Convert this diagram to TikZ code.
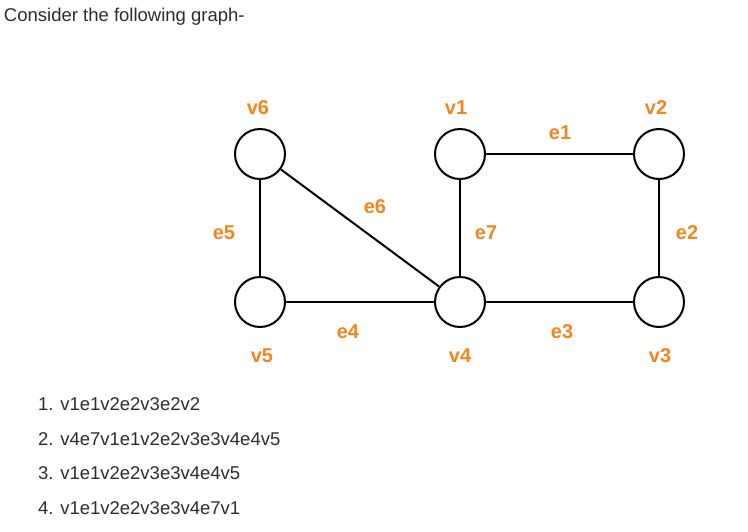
\documentclass[tikz,border=0pt]{standalone}
\usepackage{fontspec}
\setmainfont{Liberation Sans}
\definecolor{lblorange}{RGB}{242,133,30}
\definecolor{txtgray}{RGB}{45,45,45}

\begin{document}
\begin{tikzpicture}
		[x=1pt, y=-1pt, line width=2pt,
		vertex/.style={circle,draw,inner sep=0pt,minimum size=50pt},
		lbl/.style={text=lblorange,inner sep=0pt,font=\bfseries\fontsize{20}{20}\selectfont},
		txt/.style={text=txtgray,inner sep=0pt,anchor=base west}]
		\useasboundingbox (0,0) rectangle (748,531);
		\node[txt,font=\fontsize{18.5}{20}\selectfont] (head) at (3,21.5) {Consider the following graph-};
		% vertices
		\node[vertex] (v6) at (260,154) {};
		\node[vertex] (v1) at (460,154) {};
		\node[vertex] (v2) at (659,154) {};
		\node[vertex] (v5) at (260,302) {};
		\node[vertex] (v4) at (460,302) {};
		\node[vertex] (v3) at (659,302) {};
		% vertex labels
		\node[lbl] (l6) at (258,108) {v6};
		\node[lbl] (l1) at (456,108) {v1};
		\node[lbl] (l2) at (656,108) {v2};
		\node[lbl] (l5) at (262,356) {v5};
		\node[lbl] (l4) at (460,356) {v4};
		\node[lbl] (l3) at (660,356) {v3};
		% edges
		\draw (v1) -- (v2);
		\draw (v2) -- (v3);
		\draw (v4) -- (v3);
		\draw (v5) -- (v4);
		\draw (v6) -- (v5);
		\draw (v6) -- (v4);
		\draw (v1) -- (v4);
		% edge labels
		\node[lbl] (e1) at (560,133) {e1};
		\node[lbl] (e2) at (687,233) {e2};
		\node[lbl] (e3) at (562,332) {e3};
		\node[lbl] (e4) at (348,332) {e4};
		\node[lbl] (e5) at (224,233) {e5};
		\node[lbl] (e6) at (375,207) {e6};
		\node[lbl] (e7) at (486,233) {e7};
		% answers
		\foreach \n/\s [count=\i] in {1/v1e1v2e2v3e2v2, 2/v4e7v1e1v2e2v3e3v4e4v5,
			3/v1e1v2e2v3e3v4e4v5, 4/v1e1v2e2v3e3v4e7v1}
			\node[txt,font=\fontsize{18.5}{20}\selectfont] (opt\n) at (37,410.5+34.5*\i-34.5) {\n. \s};
	\end{tikzpicture}
\end{document}
